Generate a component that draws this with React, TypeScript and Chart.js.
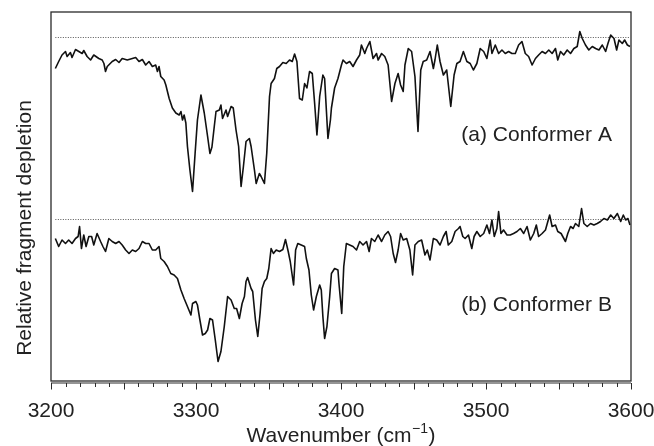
import React, { useEffect, useRef } from "react";
import { Chart, registerables } from "chart.js";

Chart.register(...registerables);

// Wavenumber (cm^-1), relative signal (0 = baseline, negative = depletion)
const spectrumA: [number, number][] = [
  [3203.0, -0.31], [3205.3, -0.24], [3207.6, -0.175], [3210.0, -0.14], [3211.1, -0.19], [3213.4, -0.15],
  [3214.5, -0.2], [3216.9, -0.12], [3219.2, -0.14], [3221.5, -0.16], [3222.6, -0.13], [3224.9, -0.19],
  [3227.3, -0.225], [3229.5, -0.175], [3233.0, -0.21], [3235.3, -0.225], [3236.5, -0.26], [3237.6, -0.34],
  [3238.8, -0.29], [3242.2, -0.24], [3244.6, -0.22], [3246.9, -0.25], [3249.1, -0.21], [3252.6, -0.225],
  [3256.1, -0.21], [3258.4, -0.2], [3260.7, -0.24], [3263.0, -0.22], [3265.3, -0.275], [3267.6, -0.24],
  [3269.9, -0.29], [3272.2, -0.275], [3273.4, -0.34], [3274.5, -0.29], [3275.7, -0.39], [3278.0, -0.425],
  [3279.2, -0.475], [3280.3, -0.54], [3281.5, -0.61], [3283.7, -0.705], [3286.1, -0.755], [3288.4, -0.775],
  [3289.6, -0.74], [3290.7, -0.825], [3291.8, -0.775], [3293.0, -0.855], [3294.1, -1.09], [3295.8, -1.325],
  [3297.6, -1.54], [3299.4, -1.155], [3301.0, -0.825], [3303.4, -0.575], [3305.7, -0.755], [3308.0, -0.99],
  [3309.6, -1.16], [3311.0, -1.095], [3312.6, -0.89], [3313.8, -0.74], [3316.1, -0.725], [3317.2, -0.675],
  [3318.3, -0.81], [3320.7, -0.725], [3321.8, -0.79], [3324.2, -0.69], [3325.7, -0.705], [3327.6, -0.925],
  [3329.4, -1.09], [3331.1, -1.49], [3332.7, -1.29], [3334.5, -1.04], [3336.8, -1.01], [3338.0, -1.09],
  [3340.3, -1.325], [3341.5, -1.46], [3343.7, -1.36], [3344.9, -1.39], [3347.2, -1.46], [3348.8, -1.155],
  [3350.7, -0.59], [3351.8, -0.46], [3354.1, -0.41], [3355.7, -0.31], [3357.6, -0.29], [3359.9, -0.25],
  [3362.2, -0.26], [3364.5, -0.225], [3366.4, -0.24], [3368.0, -0.165], [3369.6, -0.24], [3371.4, -0.61],
  [3373.3, -0.625], [3374.9, -0.46], [3376.5, -0.505], [3378.3, -0.34], [3380.2, -0.36], [3381.8, -0.655],
  [3383.4, -0.975], [3385.3, -0.59], [3387.5, -0.375], [3388.7, -0.41], [3391.0, -1.01], [3392.7, -0.825],
  [3393.4, -0.705], [3395.6, -0.505], [3397.9, -0.41], [3400.3, -0.275], [3401.4, -0.225], [3403.7, -0.26],
  [3406.0, -0.24], [3408.3, -0.29], [3410.7, -0.225], [3412.9, -0.175], [3414.1, -0.075], [3416.4, -0.16],
  [3417.6, -0.11], [3419.9, -0.04], [3422.1, -0.21], [3424.5, -0.16], [3425.6, -0.225], [3428.0, -0.16],
  [3430.2, -0.19], [3432.5, -0.275], [3434.9, -0.64], [3437.2, -0.46], [3439.4, -0.36], [3441.1, -0.475],
  [3442.9, -0.54], [3444.1, -0.275], [3446.4, -0.11], [3448.7, -0.14], [3451.0, -0.39], [3453.1, -0.94],
  [3455.0, -0.325], [3456.7, -0.24], [3459.1, -0.225], [3461.4, -0.14], [3463.7, -0.31], [3464.8, -0.225],
  [3466.4, -0.075], [3468.3, -0.24], [3470.6, -0.375], [3472.9, -0.325], [3475.7, -0.69], [3478.0, -0.375],
  [3479.9, -0.26], [3482.1, -0.24], [3484.4, -0.14], [3486.8, -0.24], [3489.1, -0.26], [3491.3, -0.325],
  [3493.7, -0.26], [3496.0, -0.11], [3498.4, -0.14], [3500.6, -0.21], [3502.9, -0.025], [3504.1, -0.16],
  [3506.4, -0.075], [3508.7, -0.16], [3511.0, -0.125], [3513.3, -0.16], [3515.6, -0.14], [3517.9, -0.16],
  [3520.2, -0.16], [3522.5, -0.075], [3524.8, -0.04], [3527.1, -0.16], [3529.4, -0.19], [3531.8, -0.275],
  [3534.1, -0.21], [3536.3, -0.175], [3538.7, -0.14], [3541.0, -0.16], [3543.3, -0.125], [3545.6, -0.16],
  [3547.9, -0.11], [3549.5, -0.225], [3551.4, -0.14], [3553.6, -0.175], [3556.0, -0.125], [3558.3, -0.16],
  [3560.6, -0.11], [3562.9, -0.09], [3564.7, 0.06], [3566.4, -0.01], [3568.6, -0.075], [3570.9, -0.125],
  [3573.3, -0.09], [3575.6, -0.11], [3577.9, -0.125], [3580.2, -0.075], [3582.5, -0.14], [3584.1, -0.06],
  [3586.0, 0.025], [3588.3, -0.01], [3590.1, -0.125], [3591.7, -0.025], [3594.0, -0.06], [3595.6, -0.025],
  [3597.5, -0.075], [3599.3, -0.09],
];

const spectrumB: [number, number][] = [
  [3203.0, -0.19], [3205.3, -0.27], [3207.6, -0.205], [3210.0, -0.24], [3212.2, -0.205], [3214.5, -0.24],
  [3216.9, -0.19], [3218.7, -0.17], [3219.7, -0.07], [3221.0, -0.29], [3222.6, -0.155], [3224.2, -0.27],
  [3226.1, -0.17], [3228.0, -0.17], [3229.5, -0.255], [3231.8, -0.14], [3234.2, -0.22], [3235.8, -0.27],
  [3237.6, -0.32], [3239.9, -0.19], [3242.2, -0.22], [3244.6, -0.24], [3246.9, -0.22], [3249.1, -0.255],
  [3251.5, -0.305], [3253.8, -0.34], [3256.1, -0.305], [3258.4, -0.32], [3260.7, -0.29], [3263.0, -0.22],
  [3265.3, -0.24], [3267.6, -0.24], [3269.9, -0.305], [3272.2, -0.305], [3274.5, -0.27], [3275.7, -0.39],
  [3278.0, -0.42], [3280.3, -0.47], [3282.6, -0.54], [3284.9, -0.555], [3287.2, -0.59], [3289.6, -0.705],
  [3291.8, -0.79], [3294.1, -0.87], [3296.5, -0.955], [3297.6, -0.84], [3299.9, -0.82], [3301.0, -0.855],
  [3302.7, -1.005], [3304.5, -1.155], [3306.4, -1.14], [3308.0, -1.105], [3309.6, -0.99], [3311.4, -1.005],
  [3313.3, -1.205], [3315.2, -1.42], [3317.2, -1.32], [3319.5, -1.07], [3321.8, -0.77], [3324.2, -0.805],
  [3326.4, -0.89], [3328.0, -0.89], [3329.9, -0.99], [3331.8, -0.84], [3333.4, -0.77], [3334.5, -0.62],
  [3335.6, -0.58], [3338.0, -0.69], [3339.1, -0.72], [3341.0, -1.005], [3342.6, -1.17], [3344.2, -0.94],
  [3345.6, -0.69], [3347.2, -0.62], [3348.8, -0.59], [3350.2, -0.49], [3351.8, -0.29], [3353.4, -0.34],
  [3355.3, -0.305], [3357.6, -0.32], [3359.9, -0.3], [3361.7, -0.2], [3363.6, -0.32], [3365.0, -0.42],
  [3367.3, -0.655], [3368.7, -0.305], [3370.2, -0.24], [3372.6, -0.255], [3374.9, -0.27], [3376.1, -0.39],
  [3377.9, -0.505], [3379.5, -0.755], [3381.1, -0.905], [3383.0, -0.77], [3385.3, -0.655], [3386.4, -0.705],
  [3387.5, -0.97], [3388.7, -1.19], [3390.3, -1.07], [3392.2, -0.77], [3393.4, -0.54], [3395.6, -0.49],
  [3397.9, -0.505], [3398.6, -0.64], [3400.5, -0.94], [3401.9, -0.47], [3403.7, -0.24], [3406.0, -0.255],
  [3408.3, -0.27], [3410.7, -0.305], [3412.9, -0.22], [3415.2, -0.255], [3417.6, -0.22], [3419.4, -0.32],
  [3421.0, -0.19], [3423.3, -0.22], [3425.6, -0.155], [3428.0, -0.22], [3430.2, -0.155], [3432.5, -0.12],
  [3434.2, -0.17], [3436.0, -0.34], [3437.6, -0.43], [3439.4, -0.305], [3441.1, -0.14], [3442.9, -0.205],
  [3445.3, -0.19], [3447.5, -0.305], [3449.4, -0.555], [3451.0, -0.255], [3453.3, -0.22], [3455.6, -0.205],
  [3457.9, -0.355], [3459.5, -0.305], [3461.4, -0.405], [3463.7, -0.19], [3466.0, -0.205], [3468.3, -0.255],
  [3470.6, -0.17], [3472.5, -0.12], [3474.0, -0.255], [3476.4, -0.22], [3478.7, -0.12], [3481.0, -0.09],
  [3482.1, -0.07], [3484.0, -0.17], [3485.6, -0.19], [3487.9, -0.155], [3490.2, -0.29], [3491.8, -0.17],
  [3493.7, -0.12], [3496.0, -0.17], [3498.4, -0.14], [3500.6, -0.055], [3502.4, -0.14], [3504.1, -0.005],
  [3505.7, -0.17], [3507.5, -0.09], [3508.7, 0.08], [3510.3, -0.14], [3512.1, -0.105], [3514.5, -0.155],
  [3516.7, -0.155], [3519.0, -0.14], [3521.4, -0.12], [3523.7, -0.09], [3526.0, -0.14], [3528.3, -0.07],
  [3530.6, -0.205], [3532.9, -0.14], [3534.7, -0.055], [3536.3, -0.17], [3538.7, -0.14], [3541.0, -0.105],
  [3543.9, 0.045], [3545.6, -0.07], [3547.9, -0.055], [3549.5, -0.12], [3551.8, -0.14], [3554.8, -0.22],
  [3556.4, -0.14], [3558.3, -0.07], [3560.1, -0.09], [3561.7, -0.04], [3564.0, -0.07], [3565.9, 0.11],
  [3567.5, -0.04], [3569.8, -0.07], [3572.1, -0.04], [3574.4, -0.055], [3576.7, -0.04], [3579.0, -0.02],
  [3581.3, 0.01], [3583.7, -0.005], [3586.0, 0.045], [3588.2, 0.01], [3590.6, 0.06], [3592.9, -0.02],
  [3594.7, 0.045], [3596.3, -0.005], [3597.9, 0.01], [3599.3, -0.055],
];

const offsetA = 1.82; // vertical offset of trace (a)
const offsetB = 0; // vertical offset of trace (b)
const baselineRange = [3203, 3599];
const xRange = [3200, 3600];
const yRange = [-1.615, 2.075];
const xTickLabels = [3200, 3300, 3400, 3500, 3600];
const minorTickStep = 10;
const majorTickStep = 50;
const labelA = "(a) Conformer A";
const labelB = "(b) Conformer B";
const labelPosA = [3483, 0.845];
const labelPosB = [3483, -0.855];
const xTitleMain = "Wavenumber (cm";
const xTitleSup = "\u22121";
const xTitleEnd = ")";
const yTitle = "Relative fragment depletion";

const FONT = "'Liberation Sans', Arial, Helvetica, sans-serif";
const INK = "#222222";

const decorPlugin = {
  id: "decor",
  afterDraw(chart: any) {
    const { ctx, chartArea: ca, scales } = chart;
    const xs = scales.x;
    const ys = scales.y;
    ctx.save();
    // frame
    ctx.strokeStyle = "#2a2a2a";
    ctx.lineWidth = 1.3;
    ctx.strokeRect(ca.left, ca.top, ca.right - ca.left, ca.bottom - ca.top);
    // tick axis
    const tickTop = ca.bottom + 2;
    ctx.lineWidth = 1;
    ctx.beginPath();
    ctx.moveTo(xs.getPixelForValue(xRange[0]), tickTop);
    ctx.lineTo(xs.getPixelForValue(xRange[1]), tickTop);
    for (let v = xRange[0]; v <= xRange[1]; v += minorTickStep) {
      const px = Math.round(xs.getPixelForValue(v)) + 0.5;
      const major = v % majorTickStep === 0;
      ctx.moveTo(px, tickTop);
      ctx.lineTo(px, tickTop + (major ? 6.5 : 4));
    }
    ctx.stroke();

    ctx.fillStyle = INK;
    ctx.font = `21px ${FONT}`;
    ctx.textAlign = "center";
    ctx.textBaseline = "middle";
    xTickLabels.forEach((v) => {
      ctx.fillText(String(v), xs.getPixelForValue(v), ca.bottom + 30);
    });

    // x title with superscript
    ctx.textAlign = "left";
    ctx.textBaseline = "alphabetic";
    ctx.font = `21px ${FONT}`;
    const w1 = ctx.measureText(xTitleMain).width;
    const w3 = ctx.measureText(xTitleEnd).width;
    ctx.font = `14px ${FONT}`;
    const w2 = ctx.measureText(xTitleSup).width;
    const cx = (ca.left + ca.right) / 2;
    let sx = cx - (w1 + w2 + w3 + 1) / 2;
    const base = ca.bottom + 61;
    ctx.font = `21px ${FONT}`;
    ctx.fillText(xTitleMain, sx, base);
    sx += w1 + 0.5;
    ctx.font = `14px ${FONT}`;
    ctx.fillText(xTitleSup, sx, base - 9);
    sx += w2 + 0.5;
    ctx.font = `21px ${FONT}`;
    ctx.fillText(xTitleEnd, sx, base);

    // y title
    ctx.save();
    ctx.translate(25, 228);
    ctx.rotate(-Math.PI / 2);
    ctx.textAlign = "center";
    ctx.textBaseline = "middle";
    ctx.fillText(yTitle, 0, 0);
    ctx.restore();

    // conformer labels
    ctx.textAlign = "left";
    ctx.textBaseline = "middle";
    ctx.fillText(labelA, xs.getPixelForValue(labelPosA[0]), ys.getPixelForValue(labelPosA[1]));
    ctx.fillText(labelB, xs.getPixelForValue(labelPosB[0]), ys.getPixelForValue(labelPosB[1]));
    ctx.restore();
  },
};

export default function App() {
  const ref = useRef<HTMLCanvasElement | null>(null);
  useEffect(() => {
    document.body.style.margin = "0";
    const canvas = ref.current;
    if (!canvas) return;
    const toPoints = (arr: [number, number][], off: number) => arr.map(([x, y]) => ({ x, y: y + off }));
    const baseline = (off: number) => baselineRange.map((x) => ({ x, y: off }));
    const chart = new Chart(canvas, {
      type: "line",
      data: {
        datasets: [
          { data: baseline(offsetA), borderColor: "#555", borderWidth: 1, borderDash: [1, 1.5], pointRadius: 0, order: 3 },
          { data: baseline(offsetB), borderColor: "#555", borderWidth: 1, borderDash: [1, 1.5], pointRadius: 0, order: 3 },
          { data: toPoints(spectrumA, offsetA), borderColor: "#111111", borderWidth: 1.6, pointRadius: 0, tension: 0, borderJoinStyle: "round", order: 1 },
          { data: toPoints(spectrumB, offsetB), borderColor: "#111111", borderWidth: 1.6, pointRadius: 0, tension: 0, borderJoinStyle: "round", order: 1 },
        ],
      },
      options: {
        animation: false,
        responsive: false,
        devicePixelRatio: 1,
        layout: { padding: { left: 51, right: 23, top: 12, bottom: 65 } },
        plugins: { legend: { display: false }, tooltip: { enabled: false } },
        scales: {
          x: { type: "linear", min: xRange[0], max: xRange[1], display: false },
          y: { type: "linear", min: yRange[0], max: yRange[1], display: false },
        },
      },
      plugins: [decorPlugin],
    });
    return () => chart.destroy();
  }, []);
  return (
    <div style={{ width: 654, height: 446, background: "#fff" }}>
      <canvas ref={ref} width={654} height={446} style={{ display: "block" }} />
    </div>
  );
}
